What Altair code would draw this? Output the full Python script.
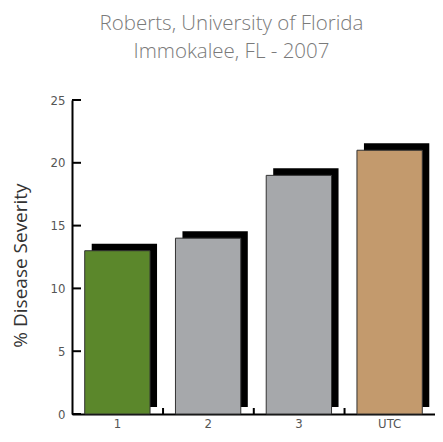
import altair as alt
import pandas as pd

categories = ["1", "2", "3", "UTC"]
severity = [13, 14, 19, 21]
colors = ["#5b872b", "#a6a8ab", "#a6a8ab", "#c39a6d"]
y_ticks = [0, 5, 10, 15, 20, 25]
between = ["1", "2", "3"]

df = pd.DataFrame({"cat": categories, "val": severity, "color": colors})
df_yt = pd.DataFrame({"v": y_ticks})
df_xt = pd.DataFrame({"cat": between})

W, H = 363, 314
narrow = "Liberation Sans Narrow, DejaVu Sans Condensed, sans-serif"

xscale = alt.Scale(domain=categories, paddingInner=0.28, paddingOuter=0.14)
yscale = alt.Scale(domain=[0, 25], nice=False)

x_enc = alt.X("cat:N", scale=xscale, sort=categories,
              axis=alt.Axis(title=None, ticks=False, labelAngle=0, labelPadding=3,
                            labelFont=narrow, labelFontSize=13, labelColor="#555",
                            domainColor="#000", domainWidth=2))
y_enc = alt.Y("val:Q", scale=yscale,
              axis=alt.Axis(title="% Disease Severity", values=y_ticks, ticks=False,
                            grid=False, labelFont=narrow, labelFontSize=13,
                            labelColor="#555", labelPadding=7,
                            domainColor="#000", domainWidth=2,
                            titleFont="Open Sans", titleFontSize=19, titleFontWeight="normal",
                            titleColor="#333", titleX=-52, titleY=165,
                            titleAngle=-90, titleAlign="center", titleBaseline="middle"))

shadow = alt.Chart(df).mark_bar(color="#000", xOffset=7, yOffset=-7, y2Offset=-7).encode(
    x=x_enc, y=y_enc
)
bars = alt.Chart(df).mark_bar(stroke="#333", strokeWidth=1).encode(
    x=alt.X("cat:N", scale=xscale, sort=categories),
    y=alt.Y("val:Q", scale=yscale),
    color=alt.Color("color:N", scale=None),
)
ytk = alt.Chart(df_yt).mark_rule(color="#000", strokeWidth=2).encode(
    y=alt.Y("v:Q", scale=yscale),
    x=alt.value(0), x2=alt.value(9),
)
xtk = alt.Chart(df_xt).mark_rule(color="#000", strokeWidth=2, xOffset=13).encode(
    x=alt.X("cat:N", scale=xscale, sort=categories, bandPosition=1),
    y=alt.value(H), y2=alt.value(H - 6),
)

chart = alt.layer(shadow, bars, ytk, xtk).properties(
    width=W, height=H,
    title=alt.TitleParams(["Roberts, University of Florida", "Immokalee, FL - 2007"],
                          font="Open Sans", fontSize=20.5, fontWeight=300,
                          color="#7a7a7a", anchor="middle", dx=-22, offset=32,
                          lineHeight=28),
    autosize=alt.AutoSizeParams(type="none"),
    padding={"left": 64, "top": 92, "right": 0, "bottom": 20},
).configure_view(stroke=None)

chart.save("out.html", embed_options={"renderer": "svg", "actions": False})
